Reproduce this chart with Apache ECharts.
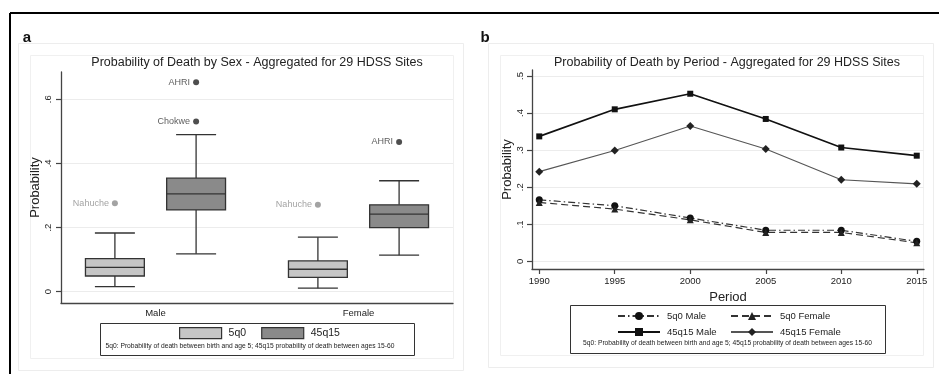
<!DOCTYPE html>
<html>
<head>
<meta charset="utf-8">
<script src="https://cdn.jsdelivr.net/npm/echarts@6/dist/echarts.min.js"></script>
<style>
  html, body { margin: 0; padding: 0; background: #fff; }
  #chart { width: 939px; height: 374px; }
</style>
</head>
<body>
<div id="chart"></div>
<script>
const font = '"Liberation Sans", Arial, sans-serif';

// Panel a - box plots by sex, [min, q1, median, q3, max]
const sexes = ['Male', 'Female'];
const box5q0 = [
  [0.016, 0.049, 0.076, 0.103, 0.183],
  [0.011, 0.045, 0.070, 0.096, 0.170]
];
const box45q15 = [
  [0.118, 0.255, 0.305, 0.354, 0.490],
  [0.114, 0.200, 0.242, 0.271, 0.346]
];
const outlierSites = ['Nahuche', 'Nahuche', 'AHRI', 'Chokwe', 'AHRI'];
const outlierSex = [0, 1, 0, 0, 1];
const outlierGroup = ['5q0', '5q0', '45q15', '45q15', '45q15'];
const outlierValues = [0.276, 0.271, 0.653, 0.531, 0.467];
const sexTicks = [0, 0.2, 0.4, 0.6];

// Panel b - probability by period
const periods = [1990, 1995, 2000, 2005, 2010, 2015];
const male5q0 = [0.166, 0.150, 0.117, 0.084, 0.084, 0.054];
const female5q0 = [0.159, 0.141, 0.112, 0.078, 0.078, 0.050];
const male45q15 = [0.337, 0.410, 0.452, 0.384, 0.307, 0.285];
const female45q15 = [0.242, 0.299, 0.365, 0.303, 0.220, 0.209];
const periodTicks = [0, 0.1, 0.2, 0.3, 0.4, 0.5];

const note = '5q0: Probability of death between birth and age 5; 45q15 probability of death between ages 15-60';

// each sex sits at 0 / 1 on the x axis, the two groups either side of it
const groupOffset = { '5q0': -0.2, '45q15': 0.2 };
const boxWidth = 0.29;
const capWidth = 0.197;

const chart = echarts.init(document.getElementById('chart'));

// Stata writes .2 instead of 0.2
function stataNum(v) {
  return v === 0 ? '0' : String(v).replace(/^0/, '');
}

function boxData(rows, group) {
  return rows.map((r, i) => [i + groupOffset[group]].concat(r));
}

function renderBox(params, api) {
  const x = api.value(0);
  const lo = api.coord([x, api.value(1)]);
  const q1 = api.coord([x, api.value(2)]);
  const md = api.coord([x, api.value(3)]);
  const q3 = api.coord([x, api.value(4)]);
  const hi = api.coord([x, api.value(5)]);
  const bw = api.size([boxWidth, 0])[0];
  const cw = api.size([capWidth, 0])[0];
  const stroke = { stroke: '#333', lineWidth: 1.3 };
  const cx = lo[0];
  return {
    type: 'group',
    children: [
      { type: 'line', shape: { x1: cx, y1: hi[1], x2: cx, y2: q3[1] }, style: stroke },
      { type: 'line', shape: { x1: cx, y1: q1[1], x2: cx, y2: lo[1] }, style: stroke },
      { type: 'line', shape: { x1: cx - cw / 2, y1: hi[1], x2: cx + cw / 2, y2: hi[1] }, style: stroke },
      { type: 'line', shape: { x1: cx - cw / 2, y1: lo[1], x2: cx + cw / 2, y2: lo[1] }, style: stroke },
      {
        type: 'rect',
        shape: { x: cx - bw / 2, y: q3[1], width: bw, height: q1[1] - q3[1] },
        style: { fill: api.visual('color'), stroke: '#333', lineWidth: 1.3 }
      },
      { type: 'line', shape: { x1: cx - bw / 2, y1: md[1], x2: cx + bw / 2, y2: md[1] }, style: stroke }
    ]
  };
}

function outliers(group) {
  const out = [];
  outlierSites.forEach((site, i) => {
    if (outlierGroup[i] === group) {
      out.push({ name: site, value: [outlierSex[i] + groupOffset[group], outlierValues[i]] });
    }
  });
  return out;
}

const axisLine = { onZero: false, lineStyle: { color: '#444', width: 1.3 } };
const axisTick = { length: 5, lineStyle: { color: '#444', width: 1.2 } };
const splitLine = { show: true, lineStyle: { color: '#ececec', width: 1 } };
const tickLabel = { fontFamily: font, fontSize: 9.5, color: '#222' };
const axisName = { fontFamily: font, fontSize: 13, color: '#222' };

function frameRect(x, y, w, h, color) {
  return {
    type: 'rect', silent: true,
    shape: { x: x, y: y, width: w, height: h },
    style: { fill: 'none', stroke: color, lineWidth: 1 }
  };
}

function label(text, x, y, size, extra) {
  return {
    type: 'text', silent: true, x: x, y: y,
    style: Object.assign({
      text: text, fontFamily: font, fontSize: size, fill: '#222',
      align: 'center', verticalAlign: 'middle'
    }, extra || {})
  };
}

chart.setOption({
  animation: false,
  backgroundColor: '#fff',
  textStyle: { fontFamily: font },
  grid: [
    { left: 61, top: 72, width: 392, height: 231 },
    { left: 532, top: 70, width: 392, height: 199 }
  ],
  xAxis: [
    {
      type: 'value', gridIndex: 0, min: -0.4655, max: 1.4655,
      axisLine: axisLine,
      axisTick: { show: false },
      splitLine: { show: false },
      axisLabel: Object.assign({ customValues: [0, 1], margin: 5, formatter: v => sexes[v] }, tickLabel)
    },
    {
      type: 'value', gridIndex: 1, min: 1989.52, max: 2015.48,
      name: 'Period', nameLocation: 'middle', nameGap: 17,
      nameTextStyle: axisName,
      axisLine: axisLine,
      axisTick: Object.assign({ customValues: periods }, axisTick),
      splitLine: { show: false },
      axisLabel: Object.assign({ customValues: periods, margin: 7, formatter: v => String(v) }, tickLabel)
    }
  ],
  yAxis: [
    {
      type: 'value', gridIndex: 0, min: -0.0352, max: 0.685,
      name: 'Probability', nameLocation: 'middle', nameGap: 18,
      nameTextStyle: axisName,
      axisLine: axisLine,
      axisTick: Object.assign({ customValues: sexTicks }, axisTick),
      splitLine: splitLine,
      axisLabel: Object.assign({ customValues: sexTicks, rotate: 90, margin: 8, formatter: stataNum }, tickLabel)
    },
    {
      type: 'value', gridIndex: 1, min: -0.0205, max: 0.516,
      name: 'Probability', nameLocation: 'middle', nameGap: 17,
      nameTextStyle: axisName,
      axisLine: axisLine,
      axisTick: Object.assign({ customValues: periodTicks }, axisTick),
      splitLine: splitLine,
      axisLabel: Object.assign({ customValues: periodTicks, rotate: 90, margin: 7, formatter: stataNum }, tickLabel)
    }
  ],
  legend: [
    {
      left: 179, top: 327, padding: 0, itemGap: 15,
      itemWidth: 42, itemHeight: 11, selectedMode: false,
      textStyle: { fontFamily: font, fontSize: 10.5, color: '#222', padding: [0, 0, 0, 2] },
      data: [
        { name: '5q0', icon: 'rect', itemStyle: { color: '#c6c6c6', borderColor: '#333', borderWidth: 1.2 } },
        { name: '45q15', icon: 'rect', itemStyle: { color: '#8a8a8a', borderColor: '#333', borderWidth: 1.2 } }
      ]
    },
    {
      left: 617, top: 311, padding: 0, orient: 'vertical', itemGap: 6,
      itemWidth: 42, itemHeight: 10, selectedMode: false,
      textStyle: { fontFamily: font, fontSize: 9.5, color: '#222', padding: [0, 0, 0, 2] },
      data: ['5q0 Male', '45q15 Male']
    },
    {
      left: 730, top: 311, padding: 0, orient: 'vertical', itemGap: 6,
      itemWidth: 42, itemHeight: 10, selectedMode: false,
      textStyle: { fontFamily: font, fontSize: 9.5, color: '#222', padding: [0, 0, 0, 2] },
      data: ['5q0 Female', '45q15 Female']
    }
  ],
  graphic: [
    { type: 'line', silent: true, shape: { x1: 10, y1: 13, x2: 939, y2: 13 }, style: { stroke: '#000', lineWidth: 2 } },
    { type: 'line', silent: true, shape: { x1: 10, y1: 13, x2: 10, y2: 374 }, style: { stroke: '#000', lineWidth: 2 } },
    frameRect(18.5, 43.5, 445, 327, '#ededed'),
    frameRect(30.5, 55.5, 423, 303, '#f0f0f0'),
    frameRect(488.5, 43.5, 445, 324, '#ededed'),
    frameRect(500.5, 55.5, 423, 300, '#f0f0f0'),
    frameRect(100.5, 323.5, 314, 32, '#333'),
    frameRect(570.5, 305.5, 315, 48, '#333'),
    label('a', 27, 38, 15, { fontWeight: 'bold', fill: '#111' }),
    label('b', 485, 38, 15, { fontWeight: 'bold', fill: '#111' }),
    label('Probability of Death by Sex - Aggregated for 29 HDSS Sites', 257, 63, 12.5),
    label('Probability of Death by Period - Aggregated for 29 HDSS Sites', 727, 63, 12.5),
    label(note, 250, 346, 6.7),
    label(note, 727.5, 343.5, 6.7)
  ],
  series: [
    {
      name: '5q0', type: 'custom', xAxisIndex: 0, yAxisIndex: 0,
      itemStyle: { color: '#c6c6c6' },
      renderItem: renderBox,
      encode: { x: 0, y: [1, 2, 3, 4, 5] },
      data: boxData(box5q0, '5q0')
    },
    {
      name: '45q15', type: 'custom', xAxisIndex: 0, yAxisIndex: 0,
      itemStyle: { color: '#8a8a8a' },
      renderItem: renderBox,
      encode: { x: 0, y: [1, 2, 3, 4, 5] },
      data: boxData(box45q15, '45q15')
    },
    {
      name: '5q0 outliers', type: 'scatter', xAxisIndex: 0, yAxisIndex: 0,
      symbolSize: 6, itemStyle: { color: '#8c8c8c' },
      label: { show: true, position: 'left', distance: 3, formatter: '{b}', fontFamily: font, fontSize: 9, color: '#8c8c8c' },
      data: outliers('5q0')
    },
    {
      name: '45q15 outliers', type: 'scatter', xAxisIndex: 0, yAxisIndex: 0,
      symbolSize: 6, itemStyle: { color: '#222' },
      label: { show: true, position: 'left', distance: 3, formatter: '{b}', fontFamily: font, fontSize: 9, color: '#333' },
      data: outliers('45q15')
    },
    {
      name: '5q0 Male', type: 'line', xAxisIndex: 1, yAxisIndex: 1,
      symbol: 'circle', symbolSize: 7,
      itemStyle: { color: '#111' },
      lineStyle: { color: '#333', width: 1.2, type: [7, 3, 1.5, 3] },
      data: periods.map((p, i) => [p, male5q0[i]])
    },
    {
      name: '5q0 Female', type: 'line', xAxisIndex: 1, yAxisIndex: 1,
      symbol: 'triangle', symbolSize: 7,
      itemStyle: { color: '#222' },
      lineStyle: { color: '#333', width: 1.2, type: [7, 4] },
      data: periods.map((p, i) => [p, female5q0[i]])
    },
    {
      name: '45q15 Male', type: 'line', xAxisIndex: 1, yAxisIndex: 1,
      symbol: 'rect', symbolSize: 6,
      itemStyle: { color: '#111' },
      lineStyle: { color: '#111', width: 1.7 },
      data: periods.map((p, i) => [p, male45q15[i]])
    },
    {
      name: '45q15 Female', type: 'line', xAxisIndex: 1, yAxisIndex: 1,
      symbol: 'diamond', symbolSize: 8,
      itemStyle: { color: '#222' },
      lineStyle: { color: '#555', width: 1.1 },
      data: periods.map((p, i) => [p, female45q15[i]])
    }
  ]
});
</script>
</body>
</html>
